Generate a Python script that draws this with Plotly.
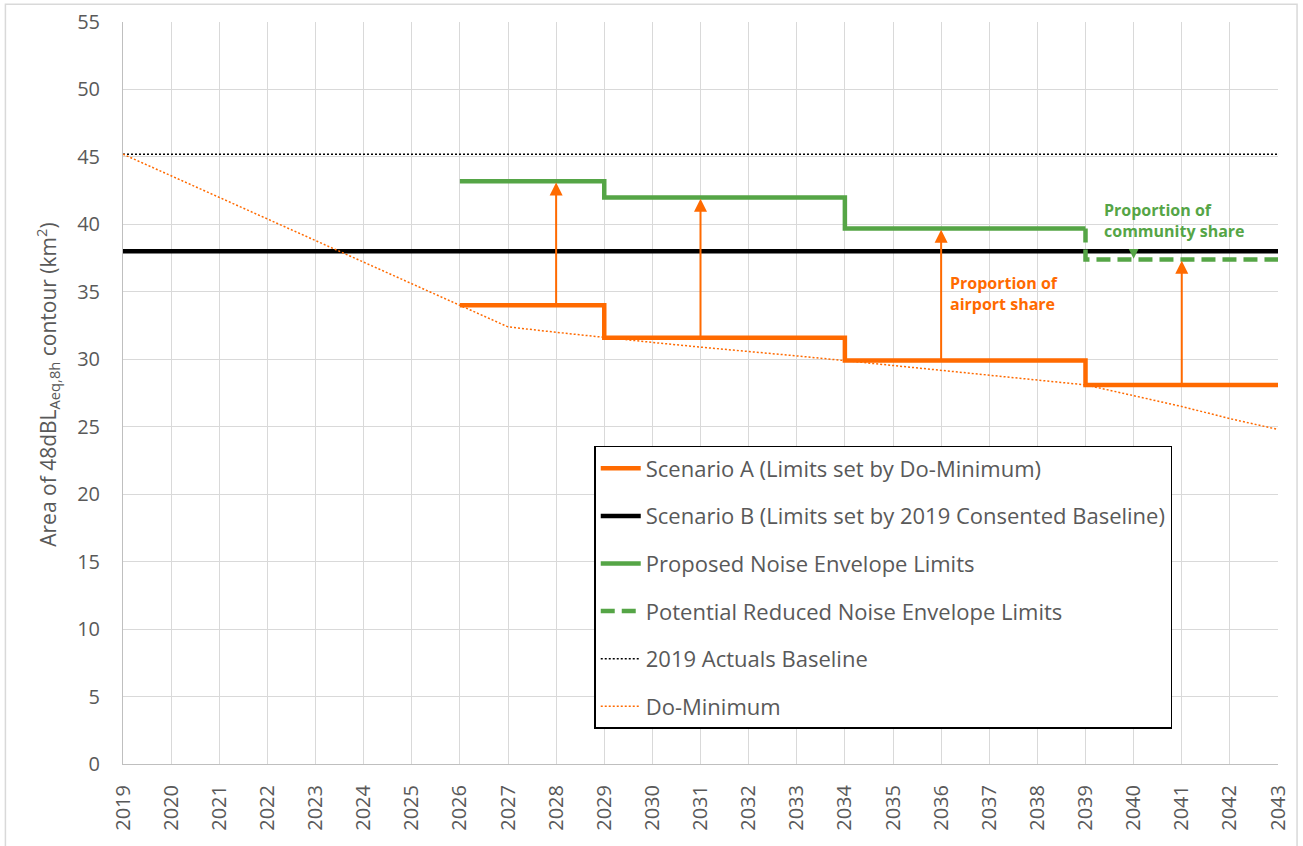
import plotly.graph_objects as go

years = list(range(2019, 2044))
do_minimum = [45.2, 43.6, 42.0, 40.4, 38.8, 37.2, 35.6, 34.0, 32.4, 32.0, 31.6, 31.25,
              30.9, 30.6, 30.25, 29.9, 29.55, 29.2, 28.85, 28.5, 28.1, 27.3, 26.5, 25.6, 24.8]
actuals_2019 = 45.2
scenario_b = 38.0

step_years = [2026, 2029, 2034, 2039, 2043]
scenario_a = [34.0, 31.6, 29.9, 28.1, 28.1]
proposed_years = [2026, 2029, 2034, 2039]
proposed = [43.2, 42.0, 39.7, 39.7]
reduced_years = [2039, 2039, 2043]
reduced = [39.7, 37.4, 37.4]

arrow_years = [2028, 2031, 2036, 2041]
arrow_from = [34.0, 31.6, 29.9, 28.1]
arrow_to = [43.2, 42.0, 39.7, 37.4]
community_arrow_year = 2040

ORANGE = "#FF6A00"
GREEN = "#55A546"
GREY = "#595959"
FONT = "Open Sans"

fig = go.Figure()
fig.add_trace(go.Scatter(x=step_years, y=scenario_a, mode="lines", line_shape="hv",
                         line=dict(color=ORANGE, width=4.5),
                         name="Scenario A (Limits set by Do-Minimum)", legendgroup="a"))
fig.add_trace(go.Scatter(x=[years[0], years[-1]], y=[scenario_b, scenario_b], mode="lines",
                         line=dict(color="black", width=4.5),
                         name="Scenario B (Limits set by 2019 Consented Baseline)", legendgroup="b"))
fig.add_trace(go.Scatter(x=proposed_years, y=proposed, mode="lines", line_shape="hv",
                         line=dict(color=GREEN, width=4.5),
                         name="Proposed Noise Envelope Limits", legendgroup="c"))
fig.add_trace(go.Scatter(x=reduced_years, y=reduced, mode="lines",
                         line=dict(color=GREEN, width=4.5, dash="14px,7px"),
                         name="Potential Reduced Noise Envelope Limits", legendgroup="d"))
fig.add_trace(go.Scatter(x=[years[0], years[-1]], y=[actuals_2019, actuals_2019], mode="lines",
                         line=dict(color="black", width=1.5, dash="2px,2px"),
                         name="2019 Actuals Baseline", legendgroup="e"))
fig.add_trace(go.Scatter(x=years, y=do_minimum, mode="lines",
                         line=dict(color=ORANGE, width=1.5, dash="2px,2px"),
                         name="Do-Minimum", legendgroup="f"))

annotations = []
for xv, y0, y1 in zip(arrow_years, arrow_from, arrow_to):
    annotations.append(dict(x=xv, y=y1 - 0.1, ax=xv, ay=y0, xref="x", yref="y", axref="x", ayref="y",
                            showarrow=True, arrowhead=2, arrowsize=1.3, arrowwidth=2,
                            arrowcolor=ORANGE, text=""))
annotations.append(dict(x=community_arrow_year, y=reduced[-1] + 0.05, ax=community_arrow_year,
                        ay=scenario_b, xref="x", yref="y", axref="x", ayref="y", showarrow=True,
                        arrowhead=2, arrowsize=1.3, arrowwidth=1.5, arrowcolor=GREEN, text=""))
annotations.append(dict(x=2036.15, y=34.9, xref="x", yref="y", xanchor="left", yanchor="middle",
                        showarrow=False, align="left",
                        text="<b>Proportion of<br>airport share</b>",
                        font=dict(family=FONT, size=16, color=ORANGE)))
annotations.append(dict(x=2039.35, y=40.3, xref="x", yref="y", xanchor="left", yanchor="middle",
                        showarrow=False, align="left",
                        text="<b>Proportion of<br>community share</b>",
                        font=dict(family=FONT, size=16, color=GREEN)))
# y-axis title
annotations.append(dict(x=-0.065, y=0.511, xref="paper", yref="paper", xanchor="center",
                        yanchor="middle", showarrow=False, textangle=-90,
                        text="Area of 48dBL<sub>Aeq,8h</sub> contour (km<sup>2</sup>)",
                        font=dict(family=FONT, size=21, color=GREY)))

fig.update_layout(
    width=1303, height=846,
    margin=dict(l=123, r=25, t=22, b=82, autoexpand=False),
    paper_bgcolor="white", plot_bgcolor="white",
    font=dict(family=FONT, color=GREY, size=18),
    showlegend=True,
    legend=dict(x=0.408, y=0.4286, xanchor="left", yanchor="top",
                bordercolor="black", borderwidth=1.5, bgcolor="white",
                font=dict(family=FONT, size=22, color=GREY),
                tracegroupgap=16, itemwidth=40),
    annotations=annotations,
    shapes=[dict(type="rect", xref="paper", yref="paper", x0=-0.1018, x1=1.0165,
                 y0=-0.2, y1=1.024, line=dict(color="#D9D9D9", width=1.5), layer="below")],
)
fig.update_xaxes(range=[2019, 2043], dtick=1, tick0=2019, tickangle=-90,
                 showgrid=True, gridcolor="#D9D9D9", gridwidth=1,
                 showline=True, linecolor="#BFBFBF", linewidth=1,
                 ticks="", tickfont=dict(size=20, color=GREY, family=FONT), zeroline=False,
                 automargin=False, ticklabelstandoff=12)
fig.update_yaxes(range=[0, 55], dtick=5, showgrid=True, gridcolor="#D9D9D9", gridwidth=1,
                 showline=True, linecolor="#BFBFBF", linewidth=1, zeroline=False,
                 ticks="", tickfont=dict(size=20, color=GREY, family=FONT),
                 automargin=False, ticklabelstandoff=18)

fig.write_html("out.html", config={"displayModeBar": False},
               post_script="document.body.style.margin='0';document.body.style.overflow='hidden';")
